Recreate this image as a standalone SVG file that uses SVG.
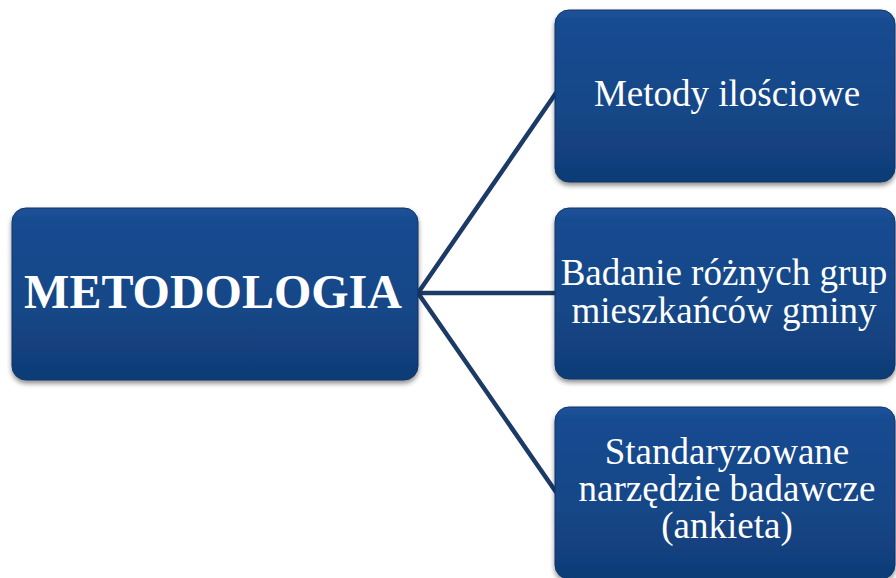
<svg xmlns="http://www.w3.org/2000/svg" width="896" height="578" viewBox="0 0 896 578">
<defs>
<linearGradient id="g" x1="0" y1="0" x2="0" y2="1">
<stop offset="0" stop-color="#1d5299"/>
<stop offset="0.08" stop-color="#174b90"/>
<stop offset="0.6" stop-color="#144687"/>
<stop offset="1" stop-color="#103c76"/>
</linearGradient>
<filter id="sh" x="-10%" y="-10%" width="120%" height="130%">
<feGaussianBlur in="SourceAlpha" stdDeviation="2.5"/>
<feOffset dx="0" dy="3" result="b"/>
<feFlood flood-color="#000" flood-opacity="0.45"/>
<feComposite in2="b" operator="in"/>
<feMerge><feMergeNode/><feMergeNode in="SourceGraphic"/></feMerge>
</filter>
</defs>
<style>
.box{fill:url(#g);stroke:#0f3566;stroke-width:1;filter:url(#sh)}
.t{fill:#fff;font-family:"Liberation Serif","Times New Roman",serif;font-size:37px;text-anchor:middle}
.tb{fill:#fff;font-family:"Liberation Serif","Times New Roman",serif;font-size:48px;font-weight:bold;text-anchor:middle}
.c{stroke:#1c3a66;stroke-width:4.5;fill:none;stroke-linecap:round}
</style>
<rect width="896" height="578" fill="#fff"/>
<g id="connectors">
<line class="c" x1="418" y1="293" x2="556" y2="93"/>
<line class="c" x1="418" y1="293" x2="556" y2="293"/>
<line class="c" x1="418" y1="293" x2="556" y2="492"/>
</g>
<g id="n0">
<rect class="box" x="12" y="208" width="406" height="172" rx="14"/>
<text class="tb" x="213" y="308">METODOLOGIA</text>
</g>
<g id="n1">
<rect class="box" x="555" y="10" width="340" height="172" rx="14"/>
<text class="t" x="727" y="106">Metody ilościowe</text>
</g>
<g id="n2">
<rect class="box" x="555" y="208" width="340" height="171" rx="14"/>
<text class="t" x="724" y="285">Badanie różnych grup</text>
<text class="t" x="724" y="323">mieszkańców gminy</text>
</g>
<g id="n3">
<rect class="box" x="555" y="407" width="340" height="172" rx="14"/>
<text class="t" x="727" y="464">Standaryzowane</text>
<text class="t" x="727" y="501">narzędzie badawcze</text>
<text class="t" x="727" y="538">(ankieta)</text>
</g>
</svg>
